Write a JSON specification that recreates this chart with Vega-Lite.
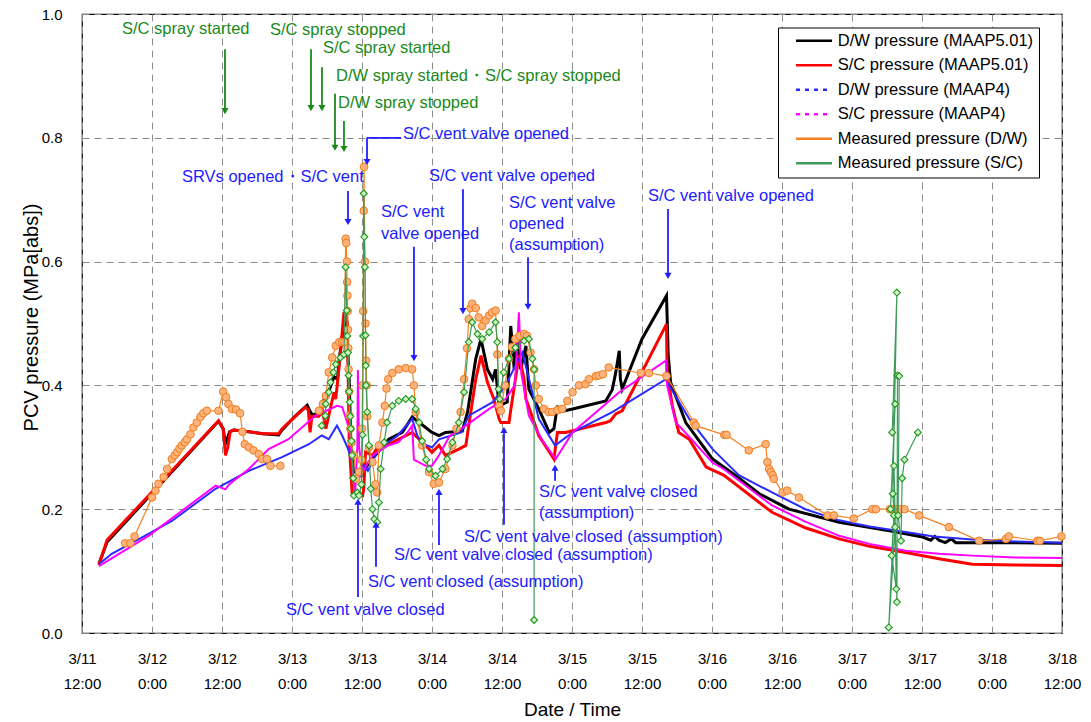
{
  "$schema": "https://vega.github.io/schema/vega-lite/v6.json",
  "width": 980,
  "height": 619,
  "autosize": {"type": "pad"},
  "padding": {"left": 21, "top": 7, "right": 5, "bottom": 5},
  "background": "white",
  "config": {
    "view": {"stroke": "#000", "strokeWidth": 1.2},
    "font": "Liberation Sans",
    "axis": {"grid": true, "gridColor": "#8c8c8c", "gridDash": [7, 5], "gridWidth": 1, "ticks": false, "domain": false, "labelColor": "#000", "titleColor": "#000", "titleFontWeight": "normal", "labelFlush": false, "labelOverlap": false}
  },
  "datasets": {
    "dw5": [
      {"hour":2.9,"mpa":0.112},{"hour":4.3,"mpa":0.147},{"hour":23.4,"mpa":0.342},{"hour":24.2,"mpa":0.330},{"hour":24.6,"mpa":0.305},{"hour":25.3,"mpa":0.325},{"hour":26.0,"mpa":0.328},{"hour":28,"mpa":0.326},{"hour":31,"mpa":0.322},{"hour":33.7,"mpa":0.320},{"hour":34.3,"mpa":0.328},{"hour":36.5,"mpa":0.350},{"hour":38.6,"mpa":0.368},{"hour":39.1,"mpa":0.358},{"hour":39.5,"mpa":0.352},{"hour":40.6,"mpa":0.356},{"hour":41.2,"mpa":0.372},{"hour":42.5,"mpa":0.395},{"hour":43.2,"mpa":0.414},{"hour":43.8,"mpa":0.410},{"hour":44.1,"mpa":0.443},{"hour":45.2,"mpa":0.518},{"hour":45.8,"mpa":0.410},{"hour":46.1,"mpa":0.303},{"hour":46.6,"mpa":0.262},{"hour":47.5,"mpa":0.254},{"hour":48.3,"mpa":0.260},{"hour":49.2,"mpa":0.276},{"hour":50.3,"mpa":0.287},{"hour":52.6,"mpa":0.313},{"hour":54.9,"mpa":0.324},{"hour":56.6,"mpa":0.349},{"hour":57.8,"mpa":0.340},{"hour":60.0,"mpa":0.324},{"hour":61.2,"mpa":0.319},{"hour":62.3,"mpa":0.324},{"hour":65.2,"mpa":0.326},{"hour":66.1,"mpa":0.357},{"hour":67.5,"mpa":0.443},{"hour":68.4,"mpa":0.475},{"hour":69.5,"mpa":0.426},{"hour":70.4,"mpa":0.410},{"hour":70.9,"mpa":0.426},{"hour":71.5,"mpa":0.367},{"hour":72.9,"mpa":0.373},{"hour":73.5,"mpa":0.496},{"hour":74.1,"mpa":0.426},{"hour":74.6,"mpa":0.470},{"hour":75.2,"mpa":0.426},{"hour":76.1,"mpa":0.464},{"hour":76.6,"mpa":0.394},{"hour":78.3,"mpa":0.362},{"hour":80.1,"mpa":0.324},{"hour":80.9,"mpa":0.330},{"hour":81.5,"mpa":0.367},{"hour":81.8,"mpa":0.357},{"hour":84.1,"mpa":0.362},{"hour":89.8,"mpa":0.375},{"hour":90.9,"mpa":0.393},{"hour":91.5,"mpa":0.421},{"hour":92.1,"mpa":0.456},{"hour":92.3,"mpa":0.410},{"hour":92.6,"mpa":0.394},{"hour":96.0,"mpa":0.475},{"hour":100.2,"mpa":0.545},{"hour":100.5,"mpa":0.448},{"hour":100.9,"mpa":0.405},{"hour":103.5,"mpa":0.340},{"hour":108.1,"mpa":0.281},{"hour":112.1,"mpa":0.254},{"hour":116.1,"mpa":0.225},{"hour":121.2,"mpa":0.200},{"hour":129.8,"mpa":0.179},{"hour":138.4,"mpa":0.165},{"hour":144.1,"mpa":0.155},{"hour":145.5,"mpa":0.150},{"hour":146.2,"mpa":0.156},{"hour":146.9,"mpa":0.150},{"hour":148,"mpa":0.146},{"hour":149,"mpa":0.152},{"hour":149.8,"mpa":0.146},{"hour":158.4,"mpa":0.146},{"hour":168,"mpa":0.145}
    ],
    "sc5": [
      {"hour":2.9,"mpa":0.110},{"hour":4.3,"mpa":0.150},{"hour":23.4,"mpa":0.343},{"hour":24.2,"mpa":0.330},{"hour":24.6,"mpa":0.287},{"hour":25.0,"mpa":0.300},{"hour":25.4,"mpa":0.325},{"hour":26.0,"mpa":0.328},{"hour":28,"mpa":0.326},{"hour":31,"mpa":0.322},{"hour":33.7,"mpa":0.322},{"hour":34.3,"mpa":0.330},{"hour":38.3,"mpa":0.365},{"hour":38.8,"mpa":0.360},{"hour":39.1,"mpa":0.324},{"hour":39.4,"mpa":0.350},{"hour":40.6,"mpa":0.350},{"hour":41.2,"mpa":0.360},{"hour":41.8,"mpa":0.330},{"hour":43.2,"mpa":0.389},{"hour":43.5,"mpa":0.378},{"hour":44.1,"mpa":0.432},{"hour":44.9,"mpa":0.518},{"hour":45.5,"mpa":0.502},{"hour":45.8,"mpa":0.313},{"hour":46.1,"mpa":0.260},{"hour":46.3,"mpa":0.227},{"hour":48.1,"mpa":0.222},{"hour":48.3,"mpa":0.233},{"hour":48.6,"mpa":0.292},{"hour":49.8,"mpa":0.287},{"hour":50.9,"mpa":0.303},{"hour":53.2,"mpa":0.308},{"hour":56.6,"mpa":0.324},{"hour":58.9,"mpa":0.303},{"hour":60.0,"mpa":0.292},{"hour":61.2,"mpa":0.303},{"hour":62.3,"mpa":0.287},{"hour":64.6,"mpa":0.297},{"hour":65.8,"mpa":0.303},{"hour":66.3,"mpa":0.335},{"hour":67.5,"mpa":0.410},{"hour":68.4,"mpa":0.448},{"hour":69.5,"mpa":0.405},{"hour":70.6,"mpa":0.378},{"hour":71.5,"mpa":0.346},{"hour":71.8,"mpa":0.340},{"hour":73.2,"mpa":0.340},{"hour":73.5,"mpa":0.360},{"hour":74.9,"mpa":0.448},{"hour":75.8,"mpa":0.410},{"hour":76.1,"mpa":0.378},{"hour":76.9,"mpa":0.357},{"hour":78.3,"mpa":0.319},{"hour":80.9,"mpa":0.281},{"hour":81.5,"mpa":0.324},{"hour":82.9,"mpa":0.324},{"hour":89.8,"mpa":0.340},{"hour":90.6,"mpa":0.343},{"hour":91.5,"mpa":0.354},{"hour":92.6,"mpa":0.359},{"hour":100.2,"mpa":0.499},{"hour":100.3,"mpa":0.421},{"hour":101.2,"mpa":0.367},{"hour":102.3,"mpa":0.324},{"hour":104.1,"mpa":0.313},{"hour":107,"mpa":0.268},{"hour":110,"mpa":0.255},{"hour":118.3,"mpa":0.195},{"hour":124,"mpa":0.170},{"hour":129.8,"mpa":0.152},{"hour":135,"mpa":0.140},{"hour":141.2,"mpa":0.130},{"hour":146.9,"mpa":0.120},{"hour":152.6,"mpa":0.111},{"hour":160,"mpa":0.110},{"hour":168,"mpa":0.109}
    ],
    "dw4": [
      {"hour":2.9,"mpa":0.111},{"hour":5.1,"mpa":0.128},{"hour":11.4,"mpa":0.160},{"hour":15.4,"mpa":0.181},{"hour":22.9,"mpa":0.233},{"hour":28.6,"mpa":0.262},{"hour":34.3,"mpa":0.284},{"hour":38.9,"mpa":0.305},{"hour":41.1,"mpa":0.319},{"hour":42.3,"mpa":0.313},{"hour":43.7,"mpa":0.335},{"hour":44.6,"mpa":0.319},{"hour":45.5,"mpa":0.300},{"hour":46.0,"mpa":0.286},{"hour":46.8,"mpa":0.265},{"hour":47.5,"mpa":0.250},{"hour":48.2,"mpa":0.272},{"hour":49.0,"mpa":0.262},{"hour":50.5,"mpa":0.290},{"hour":52,"mpa":0.305},{"hour":54,"mpa":0.318},{"hour":56.6,"mpa":0.346},{"hour":57.5,"mpa":0.318},{"hour":58.5,"mpa":0.305},{"hour":60,"mpa":0.300},{"hour":61.2,"mpa":0.313},{"hour":65,"mpa":0.324},{"hour":66.3,"mpa":0.351},{"hour":70.4,"mpa":0.373},{"hour":72.6,"mpa":0.400},{"hour":74.3,"mpa":0.432},{"hour":75.5,"mpa":0.453},{"hour":77.2,"mpa":0.389},{"hour":78.3,"mpa":0.346},{"hour":81.1,"mpa":0.303},{"hour":84.1,"mpa":0.324},{"hour":90.9,"mpa":0.357},{"hour":100.1,"mpa":0.410},{"hour":100.4,"mpa":0.404},{"hour":104.1,"mpa":0.346},{"hour":108.1,"mpa":0.297},{"hour":112.6,"mpa":0.255},{"hour":118.3,"mpa":0.227},{"hour":124,"mpa":0.200},{"hour":129.8,"mpa":0.182},{"hour":135,"mpa":0.172},{"hour":141.2,"mpa":0.163},{"hour":146,"mpa":0.156},{"hour":152.6,"mpa":0.151},{"hour":160,"mpa":0.148},{"hour":168,"mpa":0.146}
    ],
    "sc4": [
      {"hour":2.9,"mpa":0.108},{"hour":11.4,"mpa":0.157},{"hour":22.9,"mpa":0.238},{"hour":24.6,"mpa":0.232},{"hour":25.2,"mpa":0.240},{"hour":28.6,"mpa":0.265},{"hour":32,"mpa":0.297},{"hour":35.4,"mpa":0.313},{"hour":40,"mpa":0.351},{"hour":43.7,"mpa":0.367},{"hour":44.6,"mpa":0.365},{"hour":45.8,"mpa":0.330},{"hour":46.3,"mpa":0.276},{"hour":46.8,"mpa":0.222},{"hour":47.2,"mpa":0.300},{"hour":47.3,"mpa":0.425},{"hour":47.5,"mpa":0.300},{"hour":48.1,"mpa":0.260},{"hour":49.8,"mpa":0.287},{"hour":52.5,"mpa":0.303},{"hour":54.2,"mpa":0.308},{"hour":55.8,"mpa":0.324},{"hour":56.6,"mpa":0.335},{"hour":56.9,"mpa":0.280},{"hour":58.9,"mpa":0.270},{"hour":60.0,"mpa":0.270},{"hour":61.2,"mpa":0.287},{"hour":63,"mpa":0.318},{"hour":65.8,"mpa":0.335},{"hour":69.8,"mpa":0.362},{"hour":72.6,"mpa":0.378},{"hour":74.2,"mpa":0.400},{"hour":74.9,"mpa":0.518},{"hour":75.3,"mpa":0.420},{"hour":76.6,"mpa":0.351},{"hour":79,"mpa":0.310},{"hour":81.2,"mpa":0.281},{"hour":84.1,"mpa":0.324},{"hour":92.1,"mpa":0.389},{"hour":100.1,"mpa":0.440},{"hour":100.3,"mpa":0.400},{"hour":101.8,"mpa":0.340},{"hour":104,"mpa":0.318},{"hour":108.1,"mpa":0.275},{"hour":110,"mpa":0.265},{"hour":118.3,"mpa":0.206},{"hour":124,"mpa":0.180},{"hour":129.8,"mpa":0.157},{"hour":135,"mpa":0.144},{"hour":141.2,"mpa":0.133},{"hour":146.9,"mpa":0.128},{"hour":152.6,"mpa":0.125},{"hour":160,"mpa":0.122},{"hour":168,"mpa":0.121}
    ],
    "dwm1": [
      {"hour":7.4,"mpa":0.145},{"hour":8.3,"mpa":0.145},{"hour":9.0,"mpa":0.156},{"hour":12.0,"mpa":0.219},{"hour":12.6,"mpa":0.230},{"hour":13.1,"mpa":0.241},{"hour":14.0,"mpa":0.252},{"hour":14.6,"mpa":0.265},{"hour":15.4,"mpa":0.281},{"hour":15.9,"mpa":0.287},{"hour":16.3,"mpa":0.292},{"hour":16.7,"mpa":0.298},{"hour":17.1,"mpa":0.303},{"hour":17.6,"mpa":0.308},{"hour":18.0,"mpa":0.313},{"hour":18.6,"mpa":0.321},{"hour":19.1,"mpa":0.332},{"hour":19.7,"mpa":0.340},{"hour":20.3,"mpa":0.349},{"hour":20.8,"mpa":0.355},{"hour":21.4,"mpa":0.359},{"hour":23.4,"mpa":0.359},{"hour":24.2,"mpa":0.390},{"hour":24.7,"mpa":0.381},{"hour":25.1,"mpa":0.370},{"hour":25.7,"mpa":0.362},{"hour":26.4,"mpa":0.361},{"hour":27.1,"mpa":0.355},{"hour":27.5,"mpa":0.325},{"hour":27.9,"mpa":0.305},{"hour":28.6,"mpa":0.300},{"hour":29.4,"mpa":0.295},{"hour":30.3,"mpa":0.289},{"hour":30.9,"mpa":0.281},{"hour":31.7,"mpa":0.281},{"hour":32.3,"mpa":0.270},{"hour":34.0,"mpa":0.270}
    ],
    "dwm2": [
      {"hour":40.6,"mpa":0.359},{"hour":41.3,"mpa":0.370},{"hour":41.8,"mpa":0.383},{"hour":42.3,"mpa":0.421},{"hour":42.9,"mpa":0.445},{"hour":43.5,"mpa":0.464},{"hour":44.1,"mpa":0.470},{"hour":44.6,"mpa":0.470},{"hour":45.0,"mpa":0.470},{"hour":45.2,"mpa":0.637},{"hour":45.3,"mpa":0.630},{"hour":45.4,"mpa":0.600},{"hour":45.45,"mpa":0.567},{"hour":45.5,"mpa":0.545},{"hour":45.55,"mpa":0.520},{"hour":45.6,"mpa":0.490},{"hour":45.65,"mpa":0.460},{"hour":45.7,"mpa":0.426},{"hour":45.8,"mpa":0.390},{"hour":45.85,"mpa":0.351},{"hour":46.0,"mpa":0.330},{"hour":46.2,"mpa":0.308},{"hour":46.6,"mpa":0.287},{"hour":47.0,"mpa":0.249},{"hour":47.5,"mpa":0.260},{"hour":47.9,"mpa":0.280},{"hour":48.0,"mpa":0.330},{"hour":48.1,"mpa":0.400},{"hour":48.2,"mpa":0.520},{"hour":48.3,"mpa":0.682},{"hour":48.35,"mpa":0.753},{"hour":48.5,"mpa":0.600},{"hour":48.6,"mpa":0.500},{"hour":48.7,"mpa":0.440},{"hour":48.8,"mpa":0.400},{"hour":48.9,"mpa":0.350},{"hour":49.2,"mpa":0.300},{"hour":49.8,"mpa":0.276},{"hour":50.3,"mpa":0.240},{"hour":50.6,"mpa":0.227},{"hour":50.9,"mpa":0.303},{"hour":51.5,"mpa":0.340},{"hour":51.9,"mpa":0.367},{"hour":52.2,"mpa":0.395},{"hour":52.5,"mpa":0.410},{"hour":53.2,"mpa":0.420},{"hour":54.3,"mpa":0.426},{"hour":55.5,"mpa":0.428},{"hour":56.6,"mpa":0.426},{"hour":56.9,"mpa":0.400},{"hour":57.2,"mpa":0.357},{"hour":58.3,"mpa":0.303},{"hour":59.5,"mpa":0.260},{"hour":60.3,"mpa":0.241},{"hour":61.2,"mpa":0.243},{"hour":62.3,"mpa":0.265},{"hour":63.5,"mpa":0.303},{"hour":64.2,"mpa":0.330},{"hour":64.9,"mpa":0.357},{"hour":65.5,"mpa":0.410},{"hour":66.0,"mpa":0.460},{"hour":66.3,"mpa":0.507},{"hour":66.6,"mpa":0.525},{"hour":66.9,"mpa":0.532},{"hour":67.5,"mpa":0.525},{"hour":68.0,"mpa":0.510},{"hour":68.6,"mpa":0.496},{"hour":69.2,"mpa":0.505},{"hour":69.8,"mpa":0.513},{"hour":70.3,"mpa":0.518},{"hour":70.9,"mpa":0.521},{"hour":71.2,"mpa":0.450},{"hour":71.5,"mpa":0.367},{"hour":71.8,"mpa":0.359},{"hour":72.5,"mpa":0.400},{"hour":73.2,"mpa":0.443},{"hour":73.7,"mpa":0.462},{"hour":74.3,"mpa":0.475},{"hour":75.0,"mpa":0.480},{"hour":75.8,"mpa":0.483},{"hour":76.3,"mpa":0.480},{"hour":76.9,"mpa":0.453},{"hour":77.5,"mpa":0.426},{"hour":77.8,"mpa":0.400},{"hour":78.3,"mpa":0.378},{"hour":79.2,"mpa":0.362},{"hour":80.0,"mpa":0.357},{"hour":80.6,"mpa":0.357},{"hour":81.5,"mpa":0.360},{"hour":82.3,"mpa":0.362},{"hour":83.2,"mpa":0.375},{"hour":84.1,"mpa":0.389},{"hour":85.2,"mpa":0.400},{"hour":86.3,"mpa":0.402},{"hour":86.9,"mpa":0.410},{"hour":88.1,"mpa":0.415},{"hour":88.6,"mpa":0.416},{"hour":89.3,"mpa":0.418},{"hour":90.3,"mpa":0.429},{"hour":95.8,"mpa":0.420},{"hour":97.2,"mpa":0.420},{"hour":100.2,"mpa":0.415},{"hour":104.9,"mpa":0.340},{"hour":105.2,"mpa":0.335},{"hour":110.1,"mpa":0.320},{"hour":110.5,"mpa":0.320},{"hour":114.3,"mpa":0.295},{"hour":117.2,"mpa":0.305},{"hour":117.5,"mpa":0.276},{"hour":117.8,"mpa":0.265},{"hour":118.1,"mpa":0.260},{"hour":118.4,"mpa":0.255},{"hour":118.6,"mpa":0.249},{"hour":120.1,"mpa":0.227},{"hour":120.9,"mpa":0.230},{"hour":122.9,"mpa":0.219},{"hour":127.8,"mpa":0.190},{"hour":128.9,"mpa":0.190},{"hour":132.3,"mpa":0.185},{"hour":135.5,"mpa":0.200},{"hour":136.1,"mpa":0.200},{"hour":138.5,"mpa":0.200},{"hour":138.9,"mpa":0.200},{"hour":139.3,"mpa":0.200},{"hour":139.7,"mpa":0.200},{"hour":140.3,"mpa":0.200},{"hour":141.0,"mpa":0.200},{"hour":143.5,"mpa":0.190},{"hour":148.6,"mpa":0.171},{"hour":153.8,"mpa":0.149},{"hour":158.4,"mpa":0.152},{"hour":158.9,"mpa":0.156},{"hour":163.8,"mpa":0.149},{"hour":164.2,"mpa":0.149},{"hour":167.9,"mpa":0.156}
    ],
    "scm1": [
      {"n":1,"hour":41.1,"mpa":0.335},{"n":2,"hour":41.7,"mpa":0.351},{"n":3,"hour":41.8,"mpa":0.370},{"n":4,"hour":42.3,"mpa":0.389},{"n":5,"hour":42.6,"mpa":0.405},{"n":6,"hour":43.1,"mpa":0.421},{"n":7,"hour":43.5,"mpa":0.434},{"n":8,"hour":44.3,"mpa":0.445},{"n":9,"hour":44.9,"mpa":0.450},{"n":10,"hour":45.2,"mpa":0.591},{"n":11,"hour":45.4,"mpa":0.521},{"n":12,"hour":45.5,"mpa":0.480},{"n":13,"hour":45.6,"mpa":0.453},{"n":14,"hour":45.7,"mpa":0.416},{"n":15,"hour":45.8,"mpa":0.390},{"n":16,"hour":45.9,"mpa":0.373},{"n":17,"hour":46.0,"mpa":0.350},{"n":18,"hour":46.1,"mpa":0.330},{"n":19,"hour":46.2,"mpa":0.310},{"n":20,"hour":46.3,"mpa":0.287},{"n":21,"hour":46.5,"mpa":0.250},{"n":22,"hour":46.6,"mpa":0.222},{"n":23,"hour":47.2,"mpa":0.227},{"n":24,"hour":47.5,"mpa":0.222},{"n":25,"hour":47.9,"mpa":0.240},{"n":26,"hour":48.1,"mpa":0.320},{"n":27,"hour":48.2,"mpa":0.480},{"n":28,"hour":48.3,"mpa":0.710},{"n":29,"hour":48.4,"mpa":0.640},{"n":30,"hour":48.5,"mpa":0.591},{"n":31,"hour":48.6,"mpa":0.481},{"n":32,"hour":48.65,"mpa":0.432},{"n":33,"hour":48.7,"mpa":0.400},{"n":34,"hour":48.9,"mpa":0.357},{"n":35,"hour":49.2,"mpa":0.303},{"n":36,"hour":49.5,"mpa":0.233},{"n":37,"hour":49.8,"mpa":0.200},{"n":38,"hour":50.1,"mpa":0.184},{"n":39,"hour":50.6,"mpa":0.179},{"n":40,"hour":50.9,"mpa":0.211},{"n":41,"hour":51.2,"mpa":0.265},{"n":42,"hour":51.8,"mpa":0.308},{"n":43,"hour":52.3,"mpa":0.340},{"n":44,"hour":53.2,"mpa":0.367},{"n":45,"hour":54.3,"mpa":0.375},{"n":46,"hour":55.5,"mpa":0.378},{"n":47,"hour":56.6,"mpa":0.378},{"n":48,"hour":57.2,"mpa":0.362},{"n":49,"hour":57.8,"mpa":0.340},{"n":50,"hour":58.3,"mpa":0.310},{"n":51,"hour":59.0,"mpa":0.280},{"n":52,"hour":59.5,"mpa":0.265},{"n":53,"hour":60.6,"mpa":0.254},{"n":54,"hour":61.8,"mpa":0.265},{"n":55,"hour":62.6,"mpa":0.281},{"n":56,"hour":63.5,"mpa":0.308},{"n":57,"hour":64.6,"mpa":0.340},{"n":58,"hour":65.5,"mpa":0.389},{"n":59,"hour":66.3,"mpa":0.470},{"n":60,"hour":66.9,"mpa":0.502},{"n":61,"hour":67.8,"mpa":0.483},{"n":62,"hour":68.6,"mpa":0.475},{"n":63,"hour":69.8,"mpa":0.486},{"n":64,"hour":70.9,"mpa":0.502},{"n":65,"hour":71.2,"mpa":0.470},{"n":66,"hour":71.4,"mpa":0.394},{"n":67,"hour":71.6,"mpa":0.378},{"n":68,"hour":72.3,"mpa":0.421},{"n":69,"hour":73.2,"mpa":0.443},{"n":70,"hour":74.3,"mpa":0.461},{"n":71,"hour":75.8,"mpa":0.472},{"n":72,"hour":76.6,"mpa":0.475},{"n":73,"hour":77.2,"mpa":0.443},{"n":74,"hour":77.5,"mpa":0.426},{"n":75,"hour":77.5,"mpa":0.021}
    ],
    "scm2": [
      {"n":76,"hour":138.6,"mpa":0.200},{"n":77,"hour":139.4,"mpa":0.370},{"n":78,"hour":138.9,"mpa":0.324},{"n":79,"hour":139.7,"mpa":0.550},{"n":80,"hour":139.0,"mpa":0.225},{"n":81,"hour":139.4,"mpa":0.171},{"n":82,"hour":138.3,"mpa":0.009},{"n":83,"hour":139.2,"mpa":0.190},{"n":84,"hour":138.8,"mpa":0.125},{"n":85,"hour":139.6,"mpa":0.071},{"n":86,"hour":139.2,"mpa":0.270},{"n":87,"hour":139.7,"mpa":0.050},{"n":88,"hour":139.8,"mpa":0.416},{"n":89,"hour":140.1,"mpa":0.415},{"n":90,"hour":139.9,"mpa":0.190},{"n":91,"hour":140.4,"mpa":0.149},{"n":92,"hour":140.6,"mpa":0.250},{"n":93,"hour":141.0,"mpa":0.280},{"n":94,"hour":143.3,"mpa":0.324}
    ],
    "notes": [
      {"hour":6.86,"mpa":0.976,"text":"S/C spray started","col":"#1a8a1a"},
      {"hour":32.23,"mpa":0.974,"text":"S/C spray stopped","col":"#1a8a1a"},
      {"hour":41.31,"mpa":0.945,"text":"S/C spray started","col":"#1a8a1a"},
      {"hour":43.54,"mpa":0.900,"text":"D/W spray started・S/C spray stopped","col":"#1a8a1a"},
      {"hour":43.89,"mpa":0.856,"text":"D/W spray stopped","col":"#1a8a1a"},
      {"hour":55.03,"mpa":0.806,"text":"S/C vent valve opened","col":"#2020ff"},
      {"hour":17.14,"mpa":0.737,"text":"SRVs opened・S/C vent","col":"#2020ff"},
      {"hour":59.49,"mpa":0.738,"text":"S/C vent valve opened","col":"#2020ff"},
      {"hour":51.26,"mpa":0.680,"text":"S/C vent","col":"#2020ff"},
      {"hour":51.26,"mpa":0.645,"text":"valve opened","col":"#2020ff"},
      {"hour":73.2,"mpa":0.695,"text":"S/C vent valve","col":"#2020ff"},
      {"hour":73.2,"mpa":0.661,"text":"opened","col":"#2020ff"},
      {"hour":73.2,"mpa":0.627,"text":"(assumption)","col":"#2020ff"},
      {"hour":97.03,"mpa":0.706,"text":"S/C vent valve opened","col":"#2020ff"},
      {"hour":78.34,"mpa":0.228,"text":"S/C vent valve closed","col":"#2020ff"},
      {"hour":78.34,"mpa":0.194,"text":"(assumption)","col":"#2020ff"},
      {"hour":65.49,"mpa":0.155,"text":"S/C vent valve closed (assumption)","col":"#2020ff"},
      {"hour":53.49,"mpa":0.126,"text":"S/C vent valve closed (assumption)","col":"#2020ff"},
      {"hour":49.03,"mpa":0.082,"text":"S/C vent closed (assumption)","col":"#2020ff"},
      {"hour":34.97,"mpa":0.037,"text":"S/C vent valve closed","col":"#2020ff"}
    ],
    "arrows": [
      {"hour":24.51,"mpa":0.943,"hour2":24.51,"mpa2":0.845,"col":"#1a8a1a"},
      {"hour":39.26,"mpa":0.943,"hour2":39.26,"mpa2":0.850,"col":"#1a8a1a"},
      {"hour":41.14,"mpa":0.914,"hour2":41.14,"mpa2":0.850,"col":"#1a8a1a"},
      {"hour":43.37,"mpa":0.871,"hour2":43.37,"mpa2":0.786,"col":"#1a8a1a"},
      {"hour":44.91,"mpa":0.827,"hour2":44.91,"mpa2":0.784,"col":"#1a8a1a"},
      {"hour":54.69,"mpa":0.800,"hour2":48.86,"mpa2":0.800,"col":"#2020ff"},
      {"hour":48.86,"mpa":0.800,"hour2":48.86,"mpa2":0.763,"col":"#2020ff"},
      {"hour":45.6,"mpa":0.714,"hour2":45.6,"mpa2":0.666,"col":"#2020ff"},
      {"hour":65.31,"mpa":0.717,"hour2":65.31,"mpa2":0.522,"col":"#2020ff"},
      {"hour":56.91,"mpa":0.624,"hour2":56.91,"mpa2":0.446,"col":"#2020ff"},
      {"hour":76.46,"mpa":0.607,"hour2":76.46,"mpa2":0.529,"col":"#2020ff"},
      {"hour":100.46,"mpa":0.685,"hour2":100.46,"mpa2":0.579,"col":"#2020ff"},
      {"hour":81.09,"mpa":0.246,"hour2":81.09,"mpa2":0.265,"col":"#2020ff"},
      {"hour":72.34,"mpa":0.175,"hour2":72.34,"mpa2":0.326,"col":"#2020ff"},
      {"hour":61.2,"mpa":0.142,"hour2":61.2,"mpa2":0.226,"col":"#2020ff"},
      {"hour":50.4,"mpa":0.107,"hour2":50.4,"mpa2":0.173,"col":"#2020ff"},
      {"hour":47.31,"mpa":0.058,"hour2":47.31,"mpa2":0.210,"col":"#2020ff"}
    ],
    "heads": [
      {"hour":24.51,"mpa":0.843,"shape":"triangle-down","col":"#1a8a1a"},
      {"hour":39.26,"mpa":0.848,"shape":"triangle-down","col":"#1a8a1a"},
      {"hour":41.14,"mpa":0.848,"shape":"triangle-down","col":"#1a8a1a"},
      {"hour":43.37,"mpa":0.784,"shape":"triangle-down","col":"#1a8a1a"},
      {"hour":44.91,"mpa":0.782,"shape":"triangle-down","col":"#1a8a1a"},
      {"hour":48.86,"mpa":0.761,"shape":"triangle-down","col":"#2020ff"},
      {"hour":45.6,"mpa":0.664,"shape":"triangle-down","col":"#2020ff"},
      {"hour":65.31,"mpa":0.520,"shape":"triangle-down","col":"#2020ff"},
      {"hour":56.91,"mpa":0.444,"shape":"triangle-down","col":"#2020ff"},
      {"hour":76.46,"mpa":0.527,"shape":"triangle-down","col":"#2020ff"},
      {"hour":100.46,"mpa":0.577,"shape":"triangle-down","col":"#2020ff"},
      {"hour":81.09,"mpa":0.267,"shape":"triangle-up","col":"#2020ff"},
      {"hour":72.34,"mpa":0.328,"shape":"triangle-up","col":"#2020ff"},
      {"hour":61.2,"mpa":0.228,"shape":"triangle-up","col":"#2020ff"},
      {"hour":50.4,"mpa":0.175,"shape":"triangle-up","col":"#2020ff"},
      {"hour":47.31,"mpa":0.212,"shape":"triangle-up","col":"#2020ff"}
    ]
  },
  "encoding": {
    "x": {"field": "hour", "type": "quantitative", "scale": {"domain": [0, 168], "nice": false, "zero": false},
      "axis": {"title": "Date / Time", "orient": "bottom", "values": [0,12,24,36,48,60,72,84,96,108,120,132,144,156,168],
        "labelExpr": "['3/' + (11 + floor((datum.value + 12) / 24)), datum.value % 24 == 0 ? '12:00' : '0:00']",
        "labelFontSize": 15, "labelLineHeight": 25, "labelPadding": 18,
        "titleFontSize": 19, "titleX": 490, "titleY": 76, "titleBaseline": "middle"}},
    "y": {"field": "mpa", "type": "quantitative", "scale": {"domain": [0, 1], "nice": false},
      "axis": {"title": "PCV pressure (MPa[abs])", "values": [0,0.2,0.4,0.6,0.8,1], "format": ".1f", "labelFontSize": 15, "labelPadding": 20,
        "titleFontSize": 20, "titleX": -51, "titleY": 303, "titleAngle": -90, "titleAlign": "center", "titleBaseline": "middle"}}
  },
  "layer": [
    {"data": {"name": "dw5"}, "mark": {"type": "line", "strokeWidth": 3},
     "encoding": {"color": {"datum": "D/W pressure (MAAP5.01)", "type": "nominal",
       "scale": {"domain": ["D/W pressure (MAAP5.01)", "S/C pressure (MAAP5.01)", "D/W pressure (MAAP4)", "S/C pressure (MAAP4)", "Measured pressure (D/W)", "Measured pressure (S/C)"],
                 "range": ["#000000", "#ff0000", "#2a2aff", "#ff00ff", "#f5821f", "#3c9c5a"]},
       "legend": {"title": null, "orient": "none", "legendX": 696, "legendY": 13.5, "padding": 5, "rowPadding": 7.5,
         "fillColor": "#ffffff", "strokeColor": "#000000",
         "symbolType": "M-4.5,0H4.5", "symbolSize": 64, "symbolOffset": 22.75, "symbolStrokeWidth": 2.5,
         "labelOffset": 15.5, "labelLimit": 400,
         "labelExpr": "datum.label + '          '",
         "labelFontSize": 16.5, "labelFont": "Liberation Sans", "labelColor": "#000",
         "encode": {"symbols": {"update": {"strokeDash": {"signal": "indexof(datum.value, 'MAAP4') >= 0 ? [4, 5] : [1, 0]"}}}}}}}},
    {"data": {"name": "sc5"}, "mark": {"type": "line", "strokeWidth": 3},
     "encoding": {"color": {"datum": "S/C pressure (MAAP5.01)", "type": "nominal"}}},
    {"data": {"name": "dw4"}, "mark": {"type": "line", "strokeWidth": 2},
     "encoding": {"color": {"datum": "D/W pressure (MAAP4)", "type": "nominal"}}},
    {"data": {"name": "sc4"}, "mark": {"type": "line", "strokeWidth": 2},
     "encoding": {"color": {"datum": "S/C pressure (MAAP4)", "type": "nominal"}}},
    {"data": {"name": "dwm1"}, "mark": {"type": "line", "strokeWidth": 1.2},
     "encoding": {"color": {"datum": "Measured pressure (D/W)", "type": "nominal"}}},
    {"data": {"name": "dwm2"}, "mark": {"type": "line", "strokeWidth": 1.2},
     "encoding": {"color": {"datum": "Measured pressure (D/W)", "type": "nominal"}}},
    {"data": {"name": "dwm1"}, "mark": {"type": "point", "shape": "circle", "filled": true, "size": 58, "fill": "#ffb27a", "stroke": "#f07d1e", "strokeWidth": 1, "opacity": 1}},
    {"data": {"name": "dwm2"}, "mark": {"type": "point", "shape": "circle", "filled": true, "size": 58, "fill": "#ffb27a", "stroke": "#f07d1e", "strokeWidth": 1, "opacity": 1}},
    {"data": {"name": "scm1"}, "mark": {"type": "line", "strokeWidth": 1.2},
     "encoding": {"color": {"datum": "Measured pressure (S/C)", "type": "nominal"}, "order": {"field": "n", "type": "quantitative"}}},
    {"data": {"name": "scm2"}, "mark": {"type": "line", "strokeWidth": 1.2},
     "encoding": {"color": {"datum": "Measured pressure (S/C)", "type": "nominal"}, "order": {"field": "n", "type": "quantitative"}}},
    {"data": {"name": "scm1"}, "mark": {"type": "point", "shape": "diamond", "filled": true, "size": 48, "fill": "#cff3c6", "stroke": "#1e961e", "strokeWidth": 1.1, "opacity": 1}},
    {"data": {"name": "scm2"}, "mark": {"type": "point", "shape": "diamond", "filled": true, "size": 48, "fill": "#cff3c6", "stroke": "#1e961e", "strokeWidth": 1.1, "opacity": 1}},
    {"data": {"name": "arrows"}, "mark": {"type": "rule", "strokeWidth": 1.8},
     "encoding": {"x2": {"field": "hour2"}, "y2": {"field": "mpa2"}, "stroke": {"field": "col", "type": "nominal", "scale": null}}},
    {"data": {"name": "heads"}, "mark": {"type": "point", "filled": true, "size": 50, "strokeWidth": 0, "opacity": 1},
     "encoding": {"shape": {"field": "shape", "type": "nominal", "scale": null}, "fill": {"field": "col", "type": "nominal", "scale": null}}},
    {"data": {"name": "notes"}, "mark": {"type": "text", "align": "left", "baseline": "middle", "fontSize": 16.5, "font": "Liberation Sans"},
     "encoding": {"text": {"field": "text"}, "fill": {"field": "col", "type": "nominal", "scale": null}}}
  ]
}
